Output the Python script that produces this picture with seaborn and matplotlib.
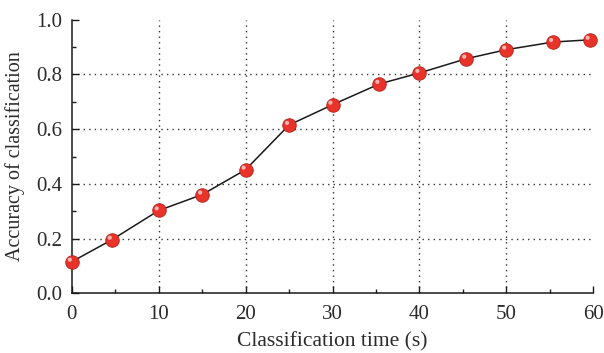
#Import libraries
import matplotlib
matplotlib.use("Agg")
import matplotlib.pyplot as plt
import matplotlib.transforms as mtransforms
from matplotlib.ticker import MultipleLocator
import pandas as pd
import seaborn as sns

#Values
time_s = [0, 4.6, 10, 15, 20, 25, 30, 35.4, 40, 45.4, 50, 55.4, 59.6]
accuracy = [0.116, 0.196, 0.303, 0.361, 0.452, 0.615, 0.689, 0.765, 0.805,
            0.857, 0.890, 0.918, 0.926]
x_ticks = [0, 10, 20, 30, 40, 50, 60]
y_ticks = [0.0, 0.2, 0.4, 0.6, 0.8, 1.0]

df = pd.DataFrame({"time": time_s, "acc": accuracy})

sns.set_style("ticks")
plt.rcParams["font.family"] = ["Liberation Serif", "DejaVu Serif"]
plt.rcParams["font.size"] = 14

fig = plt.figure(figsize=(6.04, 3.53), dpi=100)
ax = fig.add_axes([0.119, 0.1686, 0.863, 0.776])

#Line
sns.lineplot(data=df, x="time", y="acc", ax=ax, color="#1a1a1a",
             linewidth=1.1, zorder=3)
#Red ball markers
sns.scatterplot(data=df, x="time", y="acc", ax=ax, color="#e8332a", s=95,
                edgecolor="#b51f17", linewidth=0.6, zorder=4, clip_on=False)
#Highlight on each ball
shift = mtransforms.offset_copy(ax.transData, fig=fig, x=-1.5, y=1.5,
                                units="points")
ax.scatter(time_s, accuracy, s=9, color="#f7b6b0", edgecolors="none",
           zorder=5, transform=shift, clip_on=False)

ax.set_xlim(0, 60)
ax.set_ylim(0, 1.0)
ax.set_xticks(x_ticks)
ax.set_yticks(y_ticks)
ax.set_yticklabels([f"{v:.1f}" for v in y_ticks])
ax.xaxis.set_minor_locator(MultipleLocator(5))
ax.yaxis.set_minor_locator(MultipleLocator(0.1))
ax.tick_params(which="major", direction="in", length=5, width=1,
               labelsize=15, color="#1a1a1a", labelcolor="#2a2a2a")
ax.tick_params(which="minor", direction="in", length=3, width=1,
               color="#1a1a1a")
ax.tick_params(axis="x", pad=8)
ax.tick_params(axis="y", pad=7)

sns.despine(ax=ax)
for side in ["left", "bottom"]:
    ax.spines[side].set_linewidth(1.1)
    ax.spines[side].set_color("#1a1a1a")

#Dotted grid, none on the outer edges
ax.grid(True, which="major", linestyle=(0, (1, 3)), color="#333333",
        linewidth=1)
ax.get_xgridlines()[0].set_visible(False)
ax.get_xgridlines()[-1].set_visible(False)
ax.get_ygridlines()[0].set_visible(False)
ax.get_ygridlines()[-1].set_visible(False)

ax.set_xlabel("Classification time (s)", fontsize=15.5, color="#2a2a2a",
              labelpad=6)
ax.set_ylabel("Accuracy of classification", fontsize=14.5, color="#2a2a2a",
              labelpad=8)

plt.savefig("out.png", dpi=100)
print("File Saved")
